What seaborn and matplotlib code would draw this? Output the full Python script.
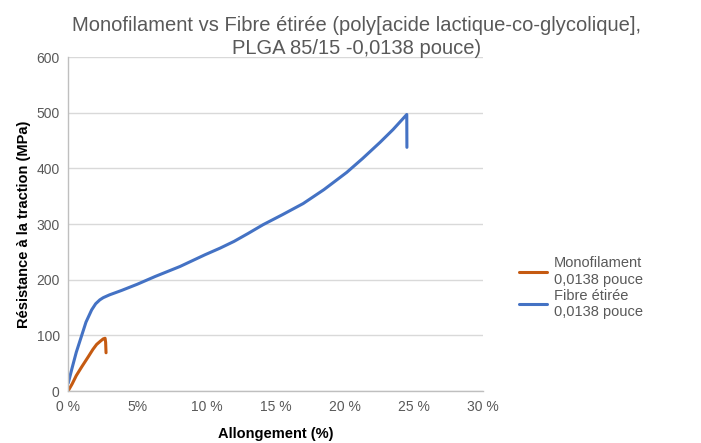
import matplotlib
matplotlib.use('Agg')
import matplotlib.pyplot as plt
import seaborn as sns
import pandas as pd

# data (strain %, stress MPa)
mono_x = [0.0, 0.3, 0.6, 1.0, 1.47, 1.8, 2.07, 2.35, 2.55, 2.68, 2.72, 2.75]
mono_y = [0, 13, 28, 44, 62, 75, 84, 90, 94, 95, 88, 69]
fibre_x = [0.02, 0.3, 0.6, 0.99, 1.3, 1.71, 2.0, 2.3, 2.55, 3.0, 3.88, 5.0, 6.3, 8.1,
           9.9, 11.0, 12.0, 13.0, 14.1, 15.5, 17.0, 18.5, 20.15, 21.3, 22.56, 23.5,
           24.49, 24.5]
fibre_y = [14.6, 42, 70, 100, 124, 146, 157, 164, 168, 173, 181, 192, 206, 224,
           245, 257, 269, 283, 299, 317, 337, 362, 393, 418, 447, 470,
           497, 438]
series_names = ["Monofilament\n0,0138 pouce", "Fibre étirée\n0,0138 pouce"]
x_ticks = [0, 5, 10, 15, 20, 25, 30]
x_tick_labels = ["0 %", "5%", "10 %", "15 %", "20 %", "25 %", "30 %"]
y_ticks = [0, 100, 200, 300, 400, 500, 600]

df = pd.concat([
    pd.DataFrame({"x": mono_x, "y": mono_y, "serie": series_names[0]}),
    pd.DataFrame({"x": fibre_x, "y": fibre_y, "serie": series_names[1]}),
])

sns.set_theme(style="white")
plt.rcParams['font.family'] = ['Liberation Sans', 'DejaVu Sans']
GREY = "#595959"

fig = plt.figure(figsize=(7.01, 4.43), dpi=100)
ax = fig.add_axes([0.097, 0.117, 0.592, 0.754])

sns.lineplot(data=df, x="x", y="y", hue="serie", sort=False, estimator=None,
             palette=["#C55A11", "#4472C4"], linewidth=2.2, ax=ax)

ax.set_xlim(0, 30)
ax.set_ylim(0, 600)
ax.set_xticks(x_ticks)
ax.set_xticklabels(x_tick_labels)
ax.set_yticks(y_ticks)
ax.tick_params(colors=GREY, labelsize=10, length=0, pad=6)
ax.yaxis.grid(True, color="#d9d9d9", linewidth=1)
ax.set_axisbelow(True)
for s in ["top", "right"]:
    ax.spines[s].set_visible(False)
for s in ["left", "bottom"]:
    ax.spines[s].set_color("#bfbfbf")
    ax.spines[s].set_linewidth(1)

ax.set_xlabel("Allongement (%)", fontsize=10.5, fontweight="bold", color="black", labelpad=10)
ax.set_ylabel("Résistance à la traction (MPa)", fontsize=10.5, fontweight="bold", color="black")

fig.text(0.508, 0.963, "Monofilament vs Fibre étirée (poly[acide lactique-co-glycolique],\nPLGA 85/15 -0,0138 pouce)",
         ha="center", va="top", fontsize=14.5, color=GREY, linespacing=1.25)

leg = ax.legend(loc="center left", bbox_to_anchor=(1.055, 0.31), frameon=False,
                fontsize=10.5, handlelength=1.9, handletextpad=0.5, labelspacing=0.15)
for t in leg.get_texts():
    t.set_color(GREY)

fig.savefig("out.png", dpi=100)
